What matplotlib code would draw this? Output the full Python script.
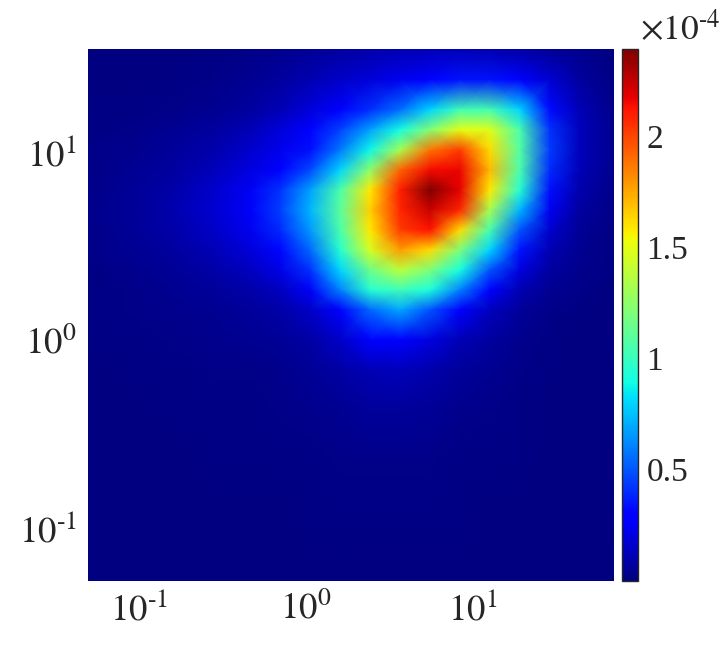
import matplotlib
matplotlib.use('Agg')
import matplotlib.pyplot as plt
import numpy as np

plt.rcParams['font.family'] = ['Liberation Serif', 'DejaVu Serif']
plt.rcParams['mathtext.fontset'] = 'stix'

# x and y positions of the cells
x_vals = [0.0495, 0.0883, 0.158, 0.281, 0.462, 0.699, 1.06, 1.6, 2.42, 3.66, 5.53, 8.36, 12.6, 19.1, 28.9, 43.7, 69.9]
y_vals = [35.6, 24.4, 16.9, 13.2, 10.3, 8.07, 6.31, 4.94, 3.86, 3.02, 2.36, 1.85, 1.45, 1.0, 0.692, 0.424, 0.229, 0.11, 0.0519]

# values in units of 1e-4, one row per y value
z_vals = [
    [0, 0, 0, .01, .02, .03, .05, .07, .09, .11, .12, .12, .10, .08, .05, .03, .01],
    [0, 0, .01, .02, .04, .07, .11, .15, .19, .24, .30, .34, .34, .30, .17, .07, .01],
    [.01, .01, .02, .04, .07, .12, .19, .29, .41, .56, .80, 1.02, 1.04, .80, .32, .12, .02],
    [.01, .02, .04, .07, .12, .19, .28, .45, .68, .90, 1.22, 1.50, 1.48, 1.05, .42, .13, .03],
    [.02, .03, .06, .10, .16, .23, .33, .58, .88, 1.32, 1.88, 2.02, 1.62, 1.08, .43, .13, .03],
    [.02, .04, .07, .13, .20, .27, .47, .80, 1.25, 1.92, 2.14, 2.16, 1.70, 1.05, .40, .12, .03],
    [.02, .05, .09, .16, .25, .42, .68, 1.05, 1.58, 2.10, 2.39, 2.18, 1.58, .95, .33, .10, .02],
    [.03, .05, .10, .17, .26, .44, .72, 1.10, 1.65, 2.08, 2.24, 2.08, 1.32, .72, .24, .07, .02],
    [.02, .05, .09, .15, .24, .40, .66, 1.05, 1.58, 2.02, 2.12, 1.62, 1.05, .50, .16, .05, .01],
    [.02, .04, .07, .12, .19, .31, .55, .95, 1.45, 1.78, 1.62, 1.20, .80, .34, .11, .04, .01],
    [.01, .03, .05, .09, .14, .22, .42, .80, 1.15, 1.38, 1.20, .90, .50, .20, .07, .03, .01],
    [.01, .02, .04, .06, .09, .14, .26, .60, .95, 1.02, .92, .60, .30, .11, .04, .02, 0],
    [.01, .02, .03, .04, .06, .09, .15, .30, .55, .70, .50, .27, .14, .06, .02, .01, 0],
    [.01, .01, .02, .03, .04, .05, .08, .15, .27, .28, .20, .12, .07, .03, .01, 0, 0],
    [0, .01, .01, .02, .02, .03, .05, .08, .12, .13, .10, .06, .04, .02, .01, 0, 0],
    [0, 0, .01, .01, .01, .02, .03, .04, .06, .06, .05, .03, .02, .01, 0, 0, 0],
    [0, 0, 0, .01, .01, .01, .01, .02, .02, .02, .02, .01, .01, .01, 0, 0, 0],
    [0, 0, 0, 0, 0, 0, .01, .01, .01, .01, .01, .01, 0, 0, 0, 0, 0],
    [0, 0, 0, 0, 0, 0, 0, 0, 0, 0, 0, 0, 0, 0, 0, 0, 0],
]

log_ticks = [0.1, 1, 10]
log_labels = ['$10^{\u20101}$', '$10^{0}$', '$10^{1}$']
cbar_ticks = [0.5, 1, 1.5, 2]
cbar_labels = ['0.5', '1', '1.5', '2']

W, H = 723, 653
fig = plt.figure(figsize=(W / 100, H / 100), dpi=100)
ax = fig.add_axes([88 / W, 1 - 581 / H, (614 - 88) / W, (581 - 49) / H])
cax = fig.add_axes([622 / W, 1 - 581 / H, 16 / W, (581 - 49) / H])

mesh = ax.pcolormesh(x_vals, y_vals, np.array(z_vals), cmap='jet', shading='gouraud', vmin=0, vmax=2.39)
ax.set_xscale('log')
ax.set_yscale('log')
ax.set_xlim(x_vals[0], x_vals[-1])
ax.set_ylim(y_vals[-1], y_vals[0])
ax.set_xticks(log_ticks)
ax.set_xticklabels(log_labels)
ax.set_yticks(log_ticks)
ax.set_yticklabels(log_labels)
ax.minorticks_off()
ax.tick_params(length=0, labelsize=26.5, labelcolor='#262626', pad=8)
for s in ax.spines.values():
    s.set_visible(False)

cb = fig.colorbar(mesh, cax=cax)
cb.set_ticks(cbar_ticks)
cb.set_ticklabels(cbar_labels)
cb.ax.tick_params(length=0, labelsize=24, labelcolor='#262626', pad=6)
cb.outline.set_edgecolor('#262626')
cb.outline.set_linewidth(1)

fig.text(640 / W, 1 - 40 / H, '$\\times10^{\u20104}$', fontsize=25.5, color='#262626', va='baseline')

fig.savefig('out.png', dpi=100)
